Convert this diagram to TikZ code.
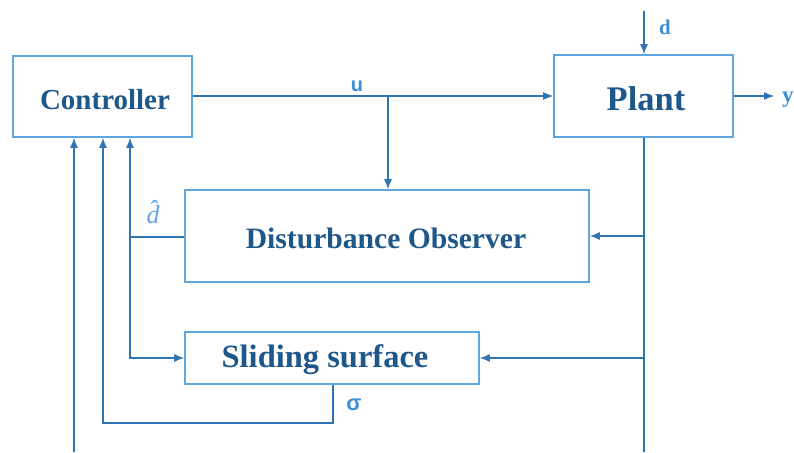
\documentclass[tikz,border=0pt]{standalone}
\usepackage{fontspec}
\setmainfont{Liberation Serif}
\setsansfont{Liberation Sans}
\usetikzlibrary{arrows.meta}
\definecolor{boxline}{RGB}{96,166,220}
\definecolor{wire}{RGB}{46,116,178}
\definecolor{boxtext}{RGB}{30,88,138}
\definecolor{sig}{RGB}{62,144,214}
\tikzset{
  block/.style={draw=boxline, line width=1.6pt, fill=white, inner sep=0pt},
  btext/.style={text=boxtext, font=\bfseries},
  wireline/.style={draw=wire, line width=1.3pt},
  flow/.style={wireline, -{Latex[length=10pt,width=8pt]}},
  siglabel/.style={text=sig, font=\bfseries, inner sep=0pt}
}
\begin{document}
\begin{tikzpicture}[x=1pt,y=-1pt]
\useasboundingbox (0,0) rectangle (794,452);
\fill[white] (0,0) rectangle (794,452);

% blocks
\node[block, minimum width=179pt, minimum height=81pt] (ctrl) at (102.5,96.5) {};
\node[btext, font=\bfseries\fontsize{29}{30}\selectfont] (ctrlt) at (105,100) {Controller};
\node[block, minimum width=179pt, minimum height=82pt] (plant) at (643.5,96) {};
\node[btext, font=\bfseries\fontsize{34.5}{36}\selectfont] (plantt) at (646,99) {Plant};
\node[block, minimum width=404pt, minimum height=92pt] (dob) at (387,236) {};
\node[btext, font=\bfseries\fontsize{29.6}{31}\selectfont] (dobt) at (386,238) {Disturbance Observer};
\node[block, minimum width=294pt, minimum height=52pt] (slide) at (332,358) {};
\node[btext, font=\bfseries\fontsize{32.5}{34}\selectfont] (slidet) at (325,360) {Sliding surface};

% junctions and free ends
\coordinate (ubr) at (388,96);
\coordinate (dtop) at (644,11);
\coordinate (yend) at (774,96);
\coordinate (pbot) at (644,452);
\coordinate (pdo) at (644,236);
\coordinate (psl) at (644,358);
\coordinate (dhx) at (130,237);
\coordinate (dhs) at (130,358);
\coordinate (sg1) at (333,423);
\coordinate (sg2) at (103,423);
\coordinate (xin) at (74,452);

% control signal u
\draw[flow] (ctrl.east |- ubr) -- (plant.west |- ubr);
\draw[flow] (ubr) -- (ubr |- dob.north);
% disturbance and output
\draw[flow] (dtop) -- (dtop |- plant.north);
\draw[flow] (plant.east |- yend) -- (yend);
% measured state fed back
\draw[wireline] (plant.south -| pbot) -- (pbot);
\draw[flow] (pdo) -- (dob.east |- pdo);
\draw[flow] (psl) -- (slide.east |- psl);
% disturbance estimate
\draw[wireline] (dob.west |- dhx) -- (dhx);
\draw[flow] (dhx) -- (dhx |- ctrl.south);
\draw[flow] (dhx) -- (dhs) -- (slide.west |- dhs);
% sliding variable
\draw[flow] (slide.south -| sg1) -- (sg1) -- (sg2) -- (sg2 |- ctrl.south);
% state input to controller
\draw[flow] (xin) -- (xin |- ctrl.south);

% signal labels
\node[siglabel, font=\sffamily\bfseries\fontsize{20}{22}\selectfont] (lu) at (357,86) {u};
\node[siglabel, font=\bfseries\fontsize{21}{22}\selectfont] (ld) at (665,27) {d};
\node[siglabel, font=\bfseries\fontsize{23}{26}\selectfont, anchor=west] (ly) at (782,100) {y};
\node[siglabel, text=sig!80!white, font=\itshape\fontsize{26}{28}\selectfont] (ldh) at (153,212) {\^{d}};
\node[siglabel, font=\sffamily\bfseries\fontsize{22}{24}\selectfont] (ls) at (354,405) {σ};
\end{tikzpicture}
\end{document}
